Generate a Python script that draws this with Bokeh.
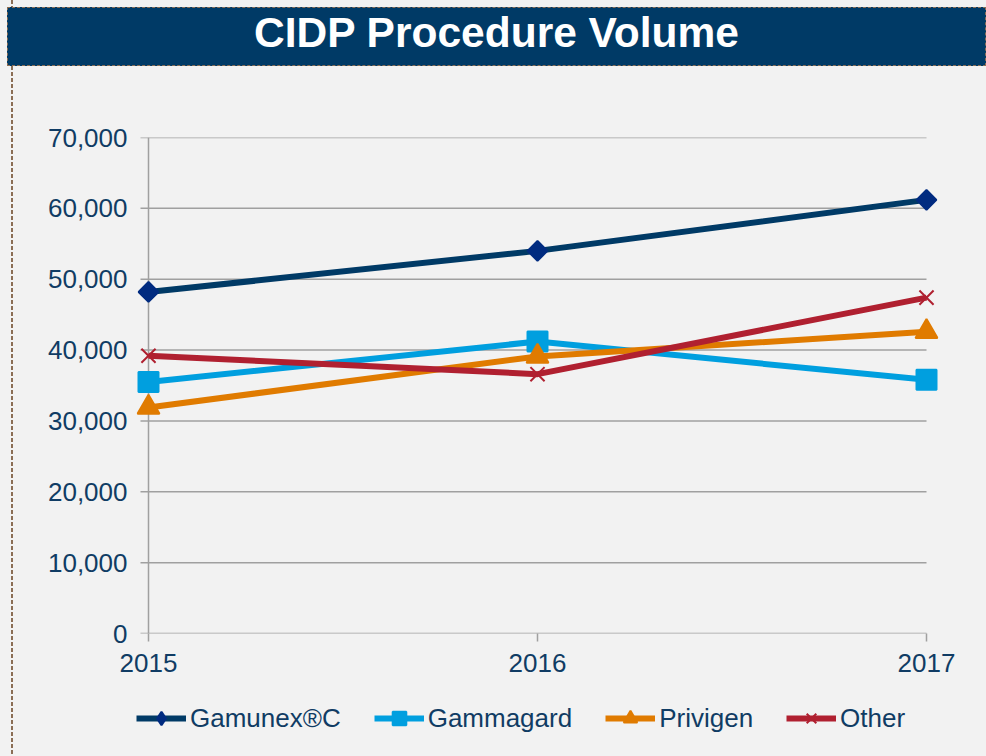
import math
from bokeh.plotting import figure
from bokeh.models import Range1d, NumeralTickFormatter, FixedTicker, Legend, LegendItem, Div
from bokeh.layouts import column
from bokeh.embed import file_html
from bokeh.resources import INLINE

years = [2015, 2016, 2017]
gamunex = [48200, 54000, 61200]
gammagard = [35500, 41200, 35800]
privigen = [31900, 39100, 42600]
other = [39200, 36600, 47400]
y_ticks = [0, 10000, 20000, 30000, 40000, 50000, 60000, 70000]
series_names = ["Gamunex®C", "Gammagard", "Privigen", "Other"]
title_text = "CIDP Procedure Volume"

BG = "#F2F2F2"
NAVY = "#003A66"
TXT = "#103C64"
GRID = "#A0A0A0"
BORDER = "#8B6E55"
FONT = "Liberation Sans"

styles = [
    dict(color=NAVY, marker="square", key="diamond", size=14, angle=math.pi / 4, fill="#002B80"),
    dict(color="#009FDF", marker="square", key="square", size=20, angle=0, fill="#009FDF"),
    dict(color="#E07B00", marker="triangle", key="triangle", size=22, angle=0, fill="#E07B00"),
    dict(color="#B02030", marker="x", key="x", size=20, angle=0, fill="#B02030"),
]
series = [gamunex, gammagard, privigen, other]

W = 986
PH, LH = 623, 66   # plot / legend strip heights

# ---------- title bar ----------
title = Div(text=title_text, width=W - 7, height=59, margin=(7, 0, 1, 7), styles={
    "background-color": NAVY,
    "color": "white",
    "font-family": "'Liberation Sans', Arial, sans-serif",
    "font-weight": "bold",
    "font-size": "42.5px",
    "text-align": "center",
    "line-height": "50px",
    "border": "1.5px dashed " + BORDER,
    "box-sizing": "border-box",
    "overflow": "hidden",
})

# ---------- main plot ----------
px_per_year = 389.0
pad = 12 / px_per_year
tick = 8 / px_per_year
p = figure(width=W, height=PH, x_range=Range1d(years[0] - pad, years[-1] + pad),
           y_range=Range1d(y_ticks[0], y_ticks[-1]), output_backend="svg", toolbar_location=None,
           min_border_left=136, min_border_right=48, min_border_top=70, min_border_bottom=57)
p.border_fill_alpha = 0
p.background_fill_alpha = 0
p.outline_line_color = None
p.grid.visible = False

n = len(y_ticks)
p.segment(x0=[years[0] - tick] * n, y0=y_ticks, x1=[years[-1]] * n, y1=y_ticks,
          line_color=GRID, line_width=1.5)
p.segment(x0=[years[0]], y0=[y_ticks[0]], x1=[years[0]], y1=[y_ticks[-1]],
          line_color=GRID, line_width=1.5)

p.yaxis.ticker = FixedTicker(ticks=y_ticks)
p.yaxis.formatter = NumeralTickFormatter(format="0,0")
p.yaxis.axis_line_color = None
p.yaxis.major_tick_line_color = None
p.yaxis.major_tick_out = 0
p.yaxis.major_tick_in = 0
p.yaxis.minor_tick_line_color = None
p.yaxis.minor_tick_out = 0
p.yaxis.major_label_standoff = 9

p.xaxis.ticker = FixedTicker(ticks=years)
p.xaxis.axis_line_color = None
p.xaxis.major_tick_line_color = GRID
p.xaxis.major_tick_line_width = 1.5
p.xaxis.major_tick_out = 8
p.xaxis.major_tick_in = 0
p.xaxis.minor_tick_line_color = None
p.xaxis.major_label_standoff = 12

for ax in (p.xaxis, p.yaxis):
    ax.major_label_text_font = FONT
    ax.major_label_text_font_size = "26px"
    ax.major_label_text_color = TXT

for vals, st in zip(series, styles):
    p.line(years, vals, line_color=st["color"], line_width=6)
    p.scatter(years, vals, marker=st["marker"], size=st["size"], angle=st["angle"],
              fill_color=st["fill"], line_color=st["fill"], line_width=2)

# ---------- legend strip (its frame is aligned with the plot's frame) ----------
lf = figure(width=W, height=LH, x_range=Range1d(0, 1), y_range=Range1d(0, 1),
            x_axis_type=None, y_axis_type=None, output_backend="svg",
            toolbar_location=None, min_border=0)
lf.grid.visible = False
lf.background_fill_alpha = 0
lf.border_fill_alpha = 0
lf.outline_line_color = None
items = []
for name, vals, st in zip(series_names, series, styles):
    # same series (outside this strip's ranges) so the legend keys have data to style from
    lr = lf.line(years, vals, line_color=st["color"], line_width=6)
    mr = lf.scatter(years, vals, marker=st["key"],
                    fill_color=st["fill"], line_color=st["fill"], line_width=2)
    items.append(LegendItem(label=name, renderers=[lr, mr]))
legend = Legend(items=items, orientation="horizontal", location=(0, 21))
legend.background_fill_alpha = 0
legend.border_line_color = None
legend.label_text_font = FONT
legend.label_text_font_size = "26px"
legend.label_text_color = TXT
legend.glyph_width = 50
legend.glyph_height = 34
legend.label_standoff = 4
legend.spacing = 33
legend.padding = 0
legend.margin = 0
lf.add_layout(legend, "center")

layout = column(title, p, lf, spacing=0, styles={
    "background-color": BG,
    "background-image": "repeating-linear-gradient(to bottom, #8B6E55 0px, #8B6E55 4px, rgba(0,0,0,0) 4px, rgba(0,0,0,0) 6px)",
    "background-size": "2px 100%",
    "background-position": "11px 0px",
    "background-repeat": "no-repeat",
})
open("out.html", "w").write(file_html(layout, INLINE))
